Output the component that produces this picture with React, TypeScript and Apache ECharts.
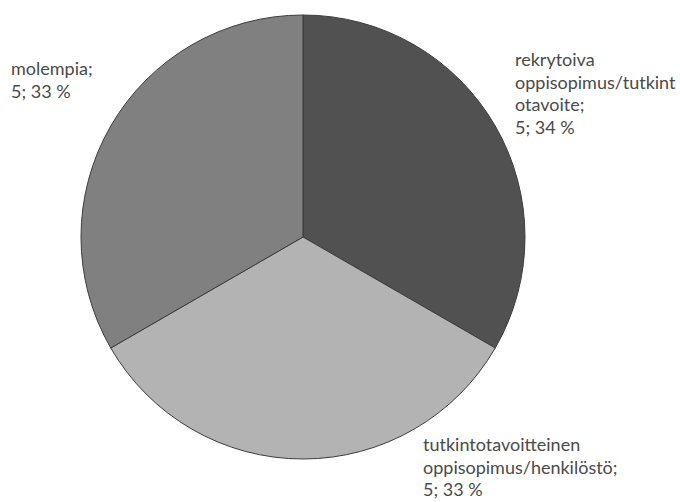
import React, { useEffect, useRef } from "react";
import * as echarts from "echarts";

const categories = [
  "rekrytoiva\noppisopimus/tutkint\notavoite",
  "tutkintotavoitteinen\noppisopimus/henkilöstö",
  "molempia",
];
const values = [5, 5, 5];
const percentLabels = [34, 33, 33];
const colors = ["#515151", "#b3b3b3", "#808080"];
const labelSpots = [
  { x: 515, y: 48 },
  { x: 423, y: 433 },
  { x: 11, y: 57 },
];

export default function App() {
  const ref = useRef<HTMLDivElement>(null);
  useEffect(() => {
    if (!ref.current) return;
    const chart = echarts.init(ref.current, null, { renderer: "svg" });
    chart.setOption({
      animation: false,
      backgroundColor: "#ffffff",
      series: [
        {
          type: "pie",
          center: [303, 237],
          radius: [0, 222],
          startAngle: 90,
          clockwise: true,
          data: categories.map((c, i) => ({
            name: c,
            value: values[i],
            itemStyle: { color: colors[i] },
          })),
          itemStyle: { borderColor: "#3c3c3c", borderWidth: 1 },
          label: {
            show: true,
            position: "outside",
            formatter: (p: any) => `${p.name};\n${p.value}; ${percentLabels[p.dataIndex]} %`,
            fontFamily: "Lato, 'Open Sans', sans-serif",
            fontSize: 18,
            lineHeight: 22.5,
            color: "#4a4a4a",
            align: "left",
            overflow: "none",
            width: 300,
          },
          labelLine: { show: false },
          labelLayout: (params: any) => ({
            x: labelSpots[params.dataIndex].x,
            y: labelSpots[params.dataIndex].y,
            align: "left",
            verticalAlign: "top",
            hideOverlap: false,
          }),
          emphasis: { disabled: true },
        },
      ],
    });
    return () => chart.dispose();
  }, []);
  return (
    <div
      ref={ref}
      style={{ position: "fixed", left: 0, top: 0, width: 680, height: 502 }}
    />
  );
}
